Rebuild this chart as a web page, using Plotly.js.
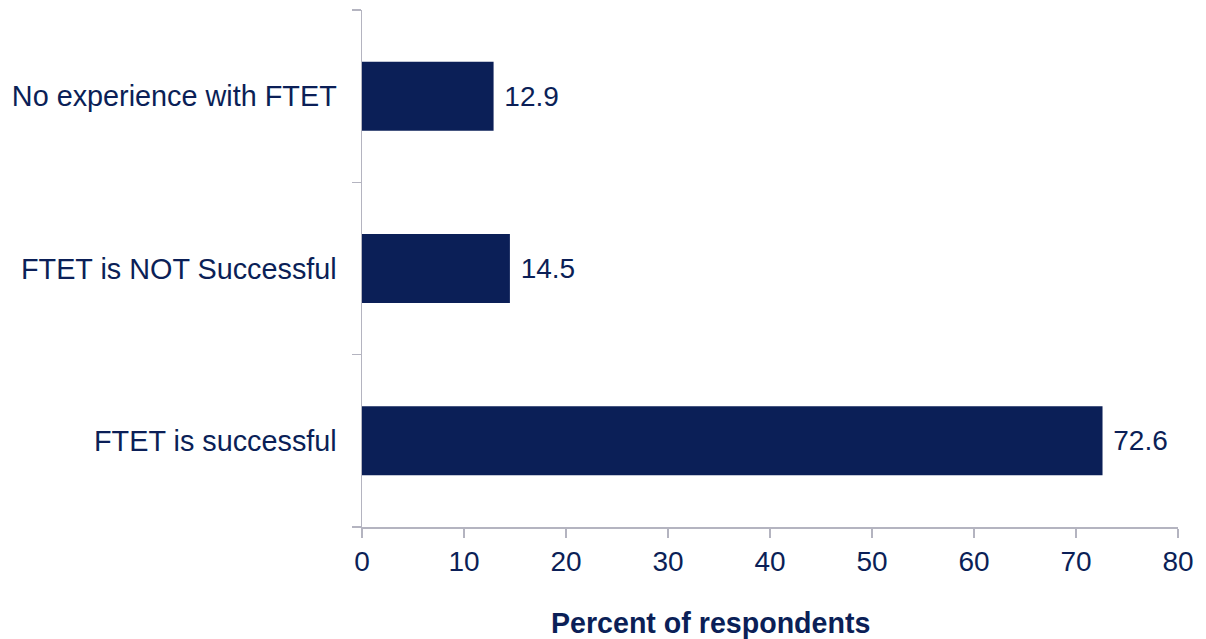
<!DOCTYPE html>
<html>
<head>
<meta charset="utf-8">
<script src="https://cdn.plot.ly/plotly-3.0.1.min.js"></script>
<style>html,body{margin:0;padding:0;background:#fff;}#chart{width:1206px;height:639px;}</style>
</head>
<body>
<div id="chart"></div>
<script>
const categories = ["FTET is successful", "FTET is NOT Successful", "No experience with FTET"];
const values = [72.6, 14.5, 12.9];
const xTicks = [0, 10, 20, 30, 40, 50, 60, 70, 80];
const xTitle = "Percent of respondents";

const navy = "#0b1f57";
const axisGray = "#b4b4c0";
const fontFam = "Liberation Sans, Arial, sans-serif";
const fs = 28;

const trace = {
  type: "bar",
  orientation: "h",
  y: categories,
  x: values,
  width: 0.4,
  marker: {color: navy},
  text: values.map(v => " " + v.toFixed(1)),
  textposition: "outside",
  cliponaxis: false,
  textfont: {family: fontFam, size: fs, color: navy},
  hoverinfo: "none"
};

const layout = {
  width: 1206,
  height: 639,
  margin: {l: 362, r: 28, t: 10, b: 112},
  paper_bgcolor: "#fff",
  plot_bgcolor: "#fff",
  showlegend: false,
  font: {family: fontFam, size: fs, color: navy},
  xaxis: {
    range: [0, 80],
    tickvals: xTicks,
    ticktext: xTicks.map(String),
    ticks: "outside",
    ticklen: 9,
    tickcolor: axisGray,
    tickwidth: 1.5,
    showline: true,
    linecolor: axisGray,
    linewidth: 1.5,
    showgrid: false,
    zeroline: false,
    tickfont: {family: fontFam, size: fs, color: navy}
  },
  yaxis: {
    type: "category",
    categoryorder: "array",
    categoryarray: categories,
    range: [-0.5, 2.5],
    tickson: "boundaries",
    ticks: "outside",
    ticklen: 9,
    tickcolor: axisGray,
    tickwidth: 1.5,
    showline: true,
    linecolor: axisGray,
    linewidth: 1.5,
    showgrid: false,
    zeroline: false,
    ticklabelstandoff: 18,
    tickfont: {family: fontFam, size: 28.8, color: navy}
  },
  annotations: [{
    text: "<b>" + xTitle + "</b>",
    xref: "paper", yref: "paper",
    x: 0.4265, y: -0.186,
    xanchor: "center", yanchor: "middle",
    showarrow: false,
    font: {family: fontFam, size: 28.6, color: navy}
  }],
  bargap: 0.6
};

Plotly.newPlot("chart", [trace], layout, {displayModeBar: false, staticPlot: true});
</script>
</body>
</html>
